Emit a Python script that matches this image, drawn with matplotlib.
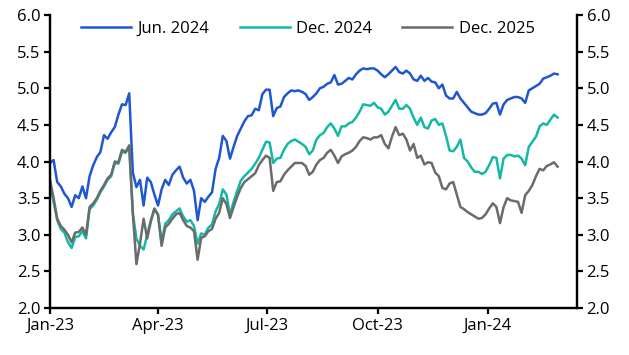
import pandas as pd
import matplotlib.pyplot as plt
import matplotlib.dates as mdates
from matplotlib.ticker import FormatStrFormatter

# Dates every 3 days from 1 Jan 2023
dates = pd.date_range("2023-01-01", periods=142, freq="3D")

jun_2024 = [
    3.98, 4.02, 3.72, 3.66, 3.56, 3.50, 3.38, 3.54, 3.50, 3.66,
    3.50, 3.80, 3.95, 4.06, 4.13, 4.36, 4.31, 4.40, 4.47, 4.64,
    4.78, 4.77, 4.93, 3.85, 3.65, 3.75, 3.40, 3.78, 3.72, 3.55,
    3.40, 3.62, 3.75, 3.68, 3.82, 3.88, 3.93, 3.78, 3.70, 3.75,
    3.60, 3.20, 3.50, 3.45, 3.52, 3.58, 3.90, 4.05, 4.35, 4.28,
    4.04, 4.20, 4.35, 4.45, 4.55, 4.62, 4.63, 4.72, 4.70, 4.92,
    4.98, 4.98, 4.62, 4.73, 4.75, 4.88, 4.93, 4.97, 4.96, 4.97,
    4.95, 4.92, 4.84, 4.88, 4.93, 5.00, 5.02, 5.06, 5.08, 5.18,
    5.05, 5.06, 5.10, 5.14, 5.12, 5.19, 5.24, 5.27, 5.26, 5.27,
    5.27, 5.24, 5.19, 5.15, 5.19, 5.24, 5.29, 5.22, 5.20, 5.24,
    5.20, 5.12, 5.10, 5.17, 5.10, 5.14, 5.09, 5.08, 5.00, 5.05,
    4.90, 4.86, 4.86, 4.95, 4.86, 4.80, 4.74, 4.68, 4.66, 4.64,
    4.64, 4.66, 4.72, 4.79, 4.80, 4.64, 4.78, 4.84, 4.86, 4.88,
    4.88, 4.86, 4.80, 4.97, 5.00, 5.03, 5.06, 5.13, 5.15, 5.17,
    5.20, 5.19,
]

dec_2024 = [
    3.70, 3.45, 3.20, 3.08, 3.03, 2.90, 2.82, 2.97, 2.98, 3.05,
    2.95, 3.35, 3.40, 3.48, 3.58, 3.66, 3.75, 3.80, 3.98, 3.97,
    4.13, 4.12, 4.20, 3.30, 2.95, 2.85, 2.80, 3.00, 3.20, 3.35,
    3.28, 2.90, 3.15, 3.20, 3.28, 3.32, 3.36, 3.25, 3.18, 3.20,
    3.12, 2.88, 3.02, 3.00, 3.10, 3.14, 3.32, 3.42, 3.62, 3.55,
    3.28, 3.45, 3.60, 3.74, 3.80, 3.85, 3.90, 3.97, 4.05, 4.16,
    4.27, 4.26, 3.98, 4.04, 4.05, 4.16, 4.24, 4.28, 4.30, 4.27,
    4.24, 4.20, 4.10, 4.15, 4.30, 4.36, 4.39, 4.47, 4.52, 4.45,
    4.35, 4.48, 4.48, 4.52, 4.54, 4.60, 4.68, 4.78, 4.77, 4.76,
    4.80, 4.74, 4.72, 4.64, 4.68, 4.76, 4.84, 4.72, 4.72, 4.77,
    4.72, 4.60, 4.50, 4.60, 4.47, 4.45, 4.56, 4.58, 4.50, 4.52,
    4.35, 4.15, 4.14, 4.20, 4.30, 4.05, 4.00, 3.92, 3.86, 3.86,
    3.83, 3.86, 3.95, 4.06, 4.05, 3.77, 4.04, 4.09, 4.09, 4.07,
    4.08, 4.04, 3.95, 4.20, 4.27, 4.34, 4.48, 4.52, 4.50, 4.57,
    4.64, 4.60,
]

dec_2025 = [
    3.75, 3.50, 3.22, 3.12, 3.07, 3.00, 2.90, 3.03, 3.04, 3.10,
    3.00, 3.38, 3.43, 3.50, 3.60, 3.68, 3.77, 3.82, 4.00, 3.99,
    4.16, 4.13, 4.22, 3.30, 2.60, 2.88, 3.22, 2.95, 3.18, 3.36,
    3.27, 2.85, 3.10, 3.15, 3.22, 3.28, 3.30, 3.20, 3.12, 3.10,
    3.05, 2.66, 2.96, 2.98, 3.05, 3.08, 3.22, 3.30, 3.50, 3.42,
    3.23, 3.38, 3.52, 3.64, 3.72, 3.76, 3.80, 3.84, 3.95, 4.02,
    4.08, 4.05, 3.60, 3.72, 3.73, 3.82, 3.88, 3.93, 3.98, 3.98,
    3.98, 3.94, 3.82, 3.86, 3.96, 4.02, 4.05, 4.12, 4.16, 4.08,
    3.98, 4.07, 4.10, 4.12, 4.15, 4.20, 4.28, 4.33, 4.32, 4.30,
    4.33, 4.33, 4.36, 4.24, 4.18, 4.34, 4.47, 4.36, 4.38, 4.30,
    4.15, 4.24, 4.05, 4.08, 3.96, 3.99, 3.98, 3.85, 3.80, 3.64,
    3.62, 3.70, 3.72, 3.55, 3.38, 3.35, 3.31, 3.28, 3.25, 3.22,
    3.23, 3.28, 3.36, 3.43, 3.38, 3.16, 3.38, 3.50, 3.47, 3.46,
    3.45, 3.30, 3.54, 3.60, 3.68, 3.80, 3.90, 3.88, 3.94, 3.96,
    3.99, 3.93,
]

series = [
    ("Jun. 2024", jun_2024, "#1f56d2"),
    ("Dec. 2024", dec_2024, "#14b8a6"),
    ("Dec. 2025", dec_2025, "#6b6b6b"),
]

plt.rcParams["font.family"] = ["Open Sans", "DejaVu Sans"]
plt.rcParams["font.size"] = 12

fig = plt.figure(figsize=(6.29, 3.55), dpi=100)
ax = fig.add_axes([0.0795, 0.132, 0.8375, 0.826])

for name, vals, col in series:
    ax.plot(dates, vals, color=col, lw=1.8, label=name)

ax.set_ylim(2.0, 6.0)
ax.set_yticks([2.0, 2.5, 3.0, 3.5, 4.0, 4.5, 5.0, 5.5, 6.0])
ax.yaxis.set_major_formatter(FormatStrFormatter("%.1f"))
ax.set_xlim(pd.Timestamp("2023-01-01"), pd.Timestamp("2024-03-15"))
ax.set_xticks(pd.to_datetime(["2023-01-01", "2023-04-01", "2023-07-01",
                              "2023-10-01", "2024-01-01"]))
ax.xaxis.set_major_formatter(mdates.DateFormatter("%b-%y"))

ax2 = ax.twinx()
ax2.set_ylim(ax.get_ylim())
ax2.set_yticks(ax.get_yticks())
ax2.yaxis.set_major_formatter(FormatStrFormatter("%.1f"))

for a in (ax, ax2):
    a.spines["top"].set_visible(False)
    for s in ("left", "right", "bottom"):
        a.spines[s].set_linewidth(1.6)
    a.tick_params(direction="out", length=4, width=1.6, colors="black",
                  labelsize=12, pad=3)

leg = ax.legend(loc="upper center", bbox_to_anchor=(0.49, 1.03), ncol=3,
                frameon=False, handlelength=3.0, columnspacing=1.8,
                handletextpad=0.4, fontsize=12)

fig.savefig("out.png", dpi=100)
